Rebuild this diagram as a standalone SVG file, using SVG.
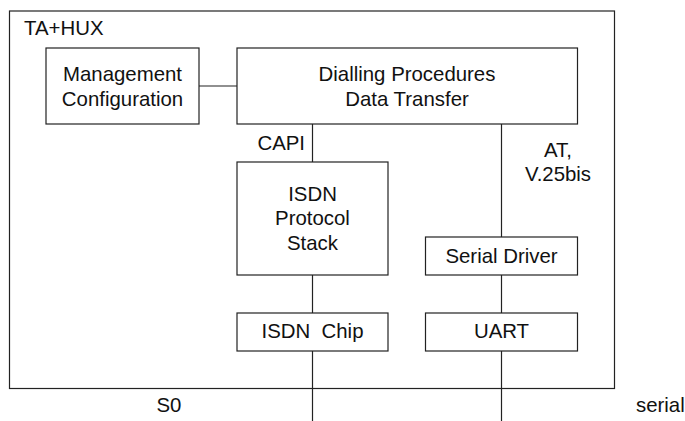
<svg xmlns="http://www.w3.org/2000/svg" width="685" height="421" viewBox="0 0 685 421">
<style>
.b{fill:#fff;stroke:#222;stroke-width:1.2}
.l{stroke:#222;stroke-width:1.2;fill:none}
text{font-family:"Liberation Sans",Arial,sans-serif;font-size:20.4px;fill:#111}
.c{text-anchor:middle}
</style>
<rect width="685" height="421" fill="#fff"/>
<g id="outer">
<rect class="b" x="9.5" y="11" width="605" height="377.5"/>
<text x="24" y="35">TA+HUX</text>
</g>
<g id="connectors">
<line class="l" x1="199" y1="86" x2="237" y2="86"/>
<line class="l" x1="312.5" y1="124" x2="312.5" y2="162"/>
<line class="l" x1="312.5" y1="275" x2="312.5" y2="313"/>
<line class="l" x1="312.5" y1="351" x2="312.5" y2="421"/>
<line class="l" x1="501.5" y1="124" x2="501.5" y2="237"/>
<line class="l" x1="501.5" y1="275" x2="501.5" y2="313"/>
<line class="l" x1="501.5" y1="351" x2="501.5" y2="421"/>
<text x="305" y="149.5" text-anchor="end">CAPI</text>
<text class="c" x="558" y="157">AT,</text>
<text class="c" x="558" y="181">V.25bis</text>
<text class="c" x="169" y="412">S0</text>
<text x="636" y="412">serial</text>
</g>
<g id="management">
<rect class="b" x="46" y="48" width="153" height="76"/>
<text class="c" x="122.5" y="81">Management</text>
<text class="c" x="122.5" y="106">Configuration</text>
</g>
<g id="dialling">
<rect class="b" x="237" y="48" width="340.5" height="76"/>
<text class="c" x="407" y="81">Dialling Procedures</text>
<text class="c" x="407" y="106">Data Transfer</text>
</g>
<g id="isdn-stack">
<rect class="b" x="237" y="162" width="151" height="113"/>
<text class="c" x="312.5" y="200.5">ISDN</text>
<text class="c" x="312.5" y="225">Protocol</text>
<text class="c" x="312.5" y="249.5">Stack</text>
</g>
<g id="isdn-chip">
<rect class="b" x="237" y="313" width="151" height="38"/>
<text class="c" x="312.5" y="337.5" xml:space="preserve">ISDN  Chip</text>
</g>
<g id="serial-driver">
<rect class="b" x="425.5" y="237" width="152" height="38"/>
<text class="c" x="501.5" y="262.5">Serial Driver</text>
</g>
<g id="uart">
<rect class="b" x="425.5" y="313" width="152" height="38"/>
<text class="c" x="501.5" y="337.5">UART</text>
</g>
</svg>
